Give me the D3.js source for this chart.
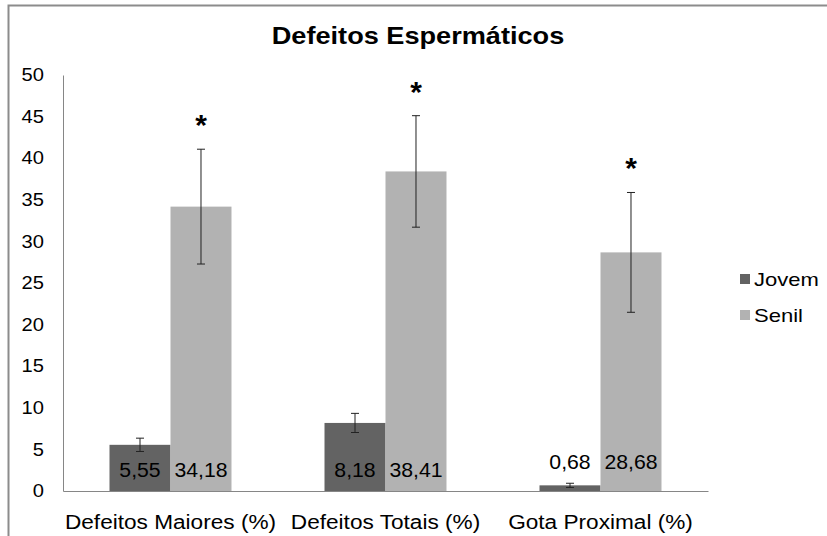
<!DOCTYPE html>
<html>
<head>
<meta charset="utf-8">
<script src="https://cdn.jsdelivr.net/npm/d3@7"></script>
<style>
  html, body { margin: 0; padding: 0; background: #fff; }
  svg { display: block; font-family: "Liberation Sans", Arial, sans-serif; }
</style>
</head>
<body>
<svg id="chart" width="827" height="536"></svg>
<script>
const categories = ["Defeitos Maiores (%)", "Defeitos Totais (%)", "Gota Proximal (%)"];
const seriesNames = ["Jovem", "Senil"];
const jovemValues = [5.55, 8.18, 0.68];
const senilValues = [34.18, 38.41, 28.68];
const jovemErrors = [0.8, 1.15, 0.25];
const senilErrors = [6.9, 6.7, 7.2];
const valueLabelsJovem = ["5,55", "8,18", "0,68"];
const valueLabelsSenil = ["34,18", "38,41", "28,68"];
const significance = ["*", "*", "*"];
const yTicks = [0, 5, 10, 15, 20, 25, 30, 35, 40, 45, 50];
const title = "Defeitos Espermáticos";

const colors = { Jovem: "#636363", Senil: "#b2b2b2" };

const svg = d3.select("#chart");
const W = 827, H = 536;

// place text with a horizontal stretch around its anchor point
function stretchText(sel, sx) {
  sel.each(function() {
    const t = d3.select(this);
    const x = +t.attr("x") || 0;
    const y = +t.attr("y") || 0;
    t.attr("x", 0).attr("y", 0)
     .attr("transform", `translate(${x},${y}) scale(${sx},1)`);
  });
}

// outer chart border (left + top visible)
svg.append("path")
  .attr("d", `M8.5,${H} L8.5,5.5 L${W},5.5`)
  .attr("fill", "none")
  .attr("stroke", "#8c8c8c")
  .attr("stroke-width", 2);

const plot = { left: 63, right: 708, top: 75, bottom: 491 };

const y = d3.scaleLinear().domain([0, 50]).range([plot.bottom, plot.top]);
const x0 = d3.scaleBand().domain(categories).range([plot.left, plot.right])
  .paddingInner(0.4326).paddingOuter(0.2163);
const x1 = d3.scaleBand().domain(seriesNames).range([0, x0.bandwidth()]).padding(0);

const data = categories.map((c, i) => ({
  cat: c,
  vals: [
    { s: "Jovem", v: jovemValues[i], e: jovemErrors[i], lab: valueLabelsJovem[i] },
    { s: "Senil", v: senilValues[i], e: senilErrors[i], lab: valueLabelsSenil[i] }
  ],
  sig: significance[i]
}));

// Title
svg.append("text")
  .attr("x", 418).attr("y", 44)
  .attr("text-anchor", "middle")
  .attr("font-size", 23).attr("font-weight", "bold")
  .attr("fill", "#000")
  .text(title)
  .call(stretchText, 1.18);

// Y axis
const yAxis = d3.axisLeft(y).tickValues(yTicks).tickSize(0).tickPadding(19)
  .tickFormat(d => String(d));
const yg = svg.append("g").attr("transform", `translate(${plot.left},0)`).call(yAxis);
yg.select(".domain").attr("stroke", "#868686").attr("stroke-width", 1);
yg.selectAll("text").attr("font-size", 17.5).attr("fill", "#000")
  .attr("font-family", "Liberation Sans, Arial, sans-serif")
  .call(stretchText, 1.15);

// X axis
const xAxis = d3.axisBottom(x0).tickSize(0).tickPadding(24);
const xg = svg.append("g").attr("transform", `translate(0,${plot.bottom})`).call(xAxis);
xg.select(".domain").attr("stroke", "#868686").attr("stroke-width", 1);
xg.selectAll("text").attr("font-size", 19.5).attr("fill", "#000")
  .attr("font-family", "Liberation Sans, Arial, sans-serif")
  .call(stretchText, 1.16);

// Bars
const groups = svg.append("g").selectAll("g").data(data).join("g")
  .attr("transform", d => `translate(${x0(d.cat)},0)`);

groups.selectAll("rect").data(d => d.vals).join("rect")
  .attr("x", d => x1(d.s))
  .attr("y", d => y(d.v))
  .attr("width", x1.bandwidth())
  .attr("height", d => y(0) - y(d.v))
  .attr("fill", d => colors[d.s]);

// Error bars
const capW = 4;
groups.each(function(d) {
  const g = d3.select(this);
  d.vals.forEach(v => {
    const cx = x1(v.s) + x1.bandwidth() / 2;
    const yt = y(v.v + v.e), yb = y(v.v - v.e);
    g.append("line").attr("x1", cx).attr("x2", cx).attr("y1", yt).attr("y2", yb)
      .attr("stroke", "#222").attr("stroke-width", 1);
    g.append("line").attr("x1", cx - capW).attr("x2", cx + capW).attr("y1", yt).attr("y2", yt)
      .attr("stroke", "#222").attr("stroke-width", 1);
    g.append("line").attr("x1", cx - capW).attr("x2", cx + capW).attr("y1", yb).attr("y2", yb)
      .attr("stroke", "#222").attr("stroke-width", 1);
  });
});

// Value labels + significance
groups.each(function(d, i) {
  const g = d3.select(this);
  const shifted = i === 2;
  d.vals.forEach(v => {
    const cx = x1(v.s) + x1.bandwidth() / 2;
    g.append("text")
      .attr("x", cx)
      .attr("y", shifted ? y(0) - 22 : y(0) - 14)
      .attr("text-anchor", "middle")
      .attr("font-size", 19.5)
      .attr("fill", "#000")
      .text(v.lab)
      .call(stretchText, 1.09);
  });
  const s = d.vals[1];
  const cx = x1(s.s) + x1.bandwidth() / 2;
  g.append("text")
    .attr("x", cx)
    .attr("y", y(s.v + s.e) - 14)
    .attr("text-anchor", "middle")
    .attr("font-size", 30)
    .attr("font-weight", "bold")
    .attr("fill", "#000")
    .text(d.sig);
});

// Legend
const legend = svg.append("g").attr("transform", "translate(740,0)");
const legY = [279, 315];
seriesNames.forEach((s, i) => {
  legend.append("rect").attr("x", 0).attr("y", legY[i] - 5).attr("width", 10).attr("height", 10)
    .attr("fill", colors[s]);
  legend.append("text").attr("x", 14).attr("y", legY[i] + 6.5)
    .attr("font-size", 18.5).attr("fill", "#000").text(s)
    .call(stretchText, 1.19);
});
</script>
</body>
</html>
